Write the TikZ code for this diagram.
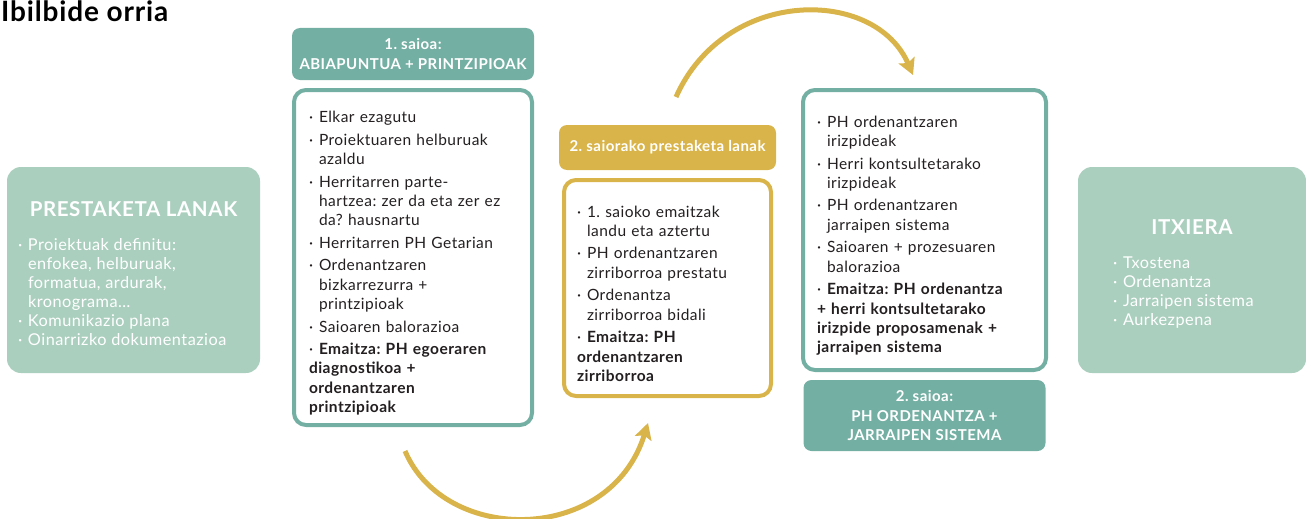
\documentclass[tikz,border=0pt]{standalone}
\usepackage{fontspec}
\setmainfont{Lato}[LetterSpace=3]
\usetikzlibrary{positioning}
\usetikzlibrary{arrows.meta}
\definecolor{sea}{HTML}{74AFA3}
\definecolor{mint}{HTML}{ABCFBE}
\definecolor{gold}{HTML}{D9B44A}
\definecolor{ink}{HTML}{231F20}
\newcommand{\bul}[1]{\par\hangindent=10pt\hangafter=1\noindent\makebox[10pt][l]{·}#1}
\newcommand{\nl}{\hfil\break}
\frenchspacing

\begin{document}
\begin{tikzpicture}
[
x=1pt, y=-1pt,
card/.style={rectangle, draw, line width=4pt, fill=white, rounded corners=12pt, outer sep=0pt, inner ysep=0pt, anchor=north west, align=left, text=ink, font=\fontsize{15.5}{19.3}\selectfont\setlength{\parskip}{3.3pt}},
head/.style={rectangle, fill=sea, rounded corners=8pt, outer sep=0pt, inner sep=0pt, align=center, text=white, font=\fontsize{15}{19.5}\selectfont\bfseries},
side/.style={rectangle, fill=mint, rounded corners=14pt, outer sep=0pt, inner sep=0pt, anchor=north west, align=center, text=white, font=\fontsize{16.3}{19}\selectfont},
flow/.style={draw=gold, line width=5pt, -{Stealth[length=16pt, width=17pt, inset=3pt]}},
]
\useasboundingbox (0,0) rectangle (1306,519);
\node (title) [anchor=base west, inner sep=0pt, font=\fontsize{28}{30}\selectfont\bfseries] at (1,22) {Ibilbide orria};

\node (prep) [side, minimum width=253pt, minimum height=206pt] at (7,167)
 {\rule{0pt}{22pt}{\fontsize{20.5}{22}\selectfont\bfseries PRESTAKETA LANAK}\\[15pt]
  \parbox[t]{231pt}{\bul{Proiektuak definitu:\nl enfokea, helburuak,\nl formatua, ardurak,\nl kronograma…}\bul{Komunikazio plana}\bul{Oinarrizko dokumentazioa}}};

\node (box1) [card, draw=sea, minimum width=238pt, minimum height=335pt, inner xsep=15pt, text width=208pt] at (294,90)
 {\bul{Elkar ezagutu}
  \bul{Proiektuaren helburuak\nl azaldu}
  \bul{Herritarren parte-\nl hartzea: zer da eta zer ez\nl da? hausnartu}
  \bul{Herritarren PH Getarian}
  \bul{Ordenantzaren\nl bizkarrezurra +\nl printzipioak}
  \bul{Saioaren balorazioa}
  \bul{\textbf{Emaitza: PH egoeraren\nl diagnostikoa +\nl ordenantzaren\nl printzipioak}}};
\node (head1) [head, minimum width=242pt, minimum height=52pt, above=10pt of box1] {1. saioa:\\ABIAPUNTUA + PRINTZIPIOAK};

\node (box2) [card, draw=gold, minimum width=207pt, minimum height=216pt, inner xsep=13pt, text width=181pt] at (564,180)
 {\bul{1. saioko emaitzak\nl landu eta aztertu}
  \bul{PH ordenantzaren\nl zirriborroa prestatu}
  \bul{Ordenantza\nl zirriborroa bidali}
  \bul{\textbf{Emaitza: PH\nl ordenantzaren\nl zirriborroa}}};
\node (head2) [head, fill=gold, minimum width=217pt, minimum height=45pt, above=10pt of box2] {2. saiorako prestaketa lanak};

\node (box3) [card, draw=sea, minimum width=243pt, minimum height=280pt, inner xsep=14pt, text width=215pt] at (803,90)
 {\bul{PH ordenantzaren\nl irizpideak}
  \bul{Herri kontsultetarako\nl irizpideak}
  \bul{PH ordenantzaren\nl jarraipen sistema}
  \bul{Saioaren + prozesuaren\nl balorazioa}
  \bul{\textbf{Emaitza: PH ordenantza\nl + herri kontsultetarako\nl irizpide proposamenak +\nl jarraipen sistema}}};
\node (head3) [head, minimum width=242pt, minimum height=71pt, below=10pt of box3] {2. saioa:\\PH ORDENANTZA +\\JARRAIPEN SISTEMA};

\node (close) [side, minimum width=228pt, minimum height=206pt] at (1078,167)
 {\rule{0pt}{22pt}{\fontsize{20.5}{22}\selectfont\bfseries ITXIERA}\\[15pt]
  \parbox[t]{158pt}{\bul{Txostena}\bul{Ordenantza}\bul{Jarraipen sistema}\bul{Aurkezpena}}};

% arrows between sessions
\coordinate (a1s) at (405,451);
\coordinate (a1e) at (648,423);
\coordinate (a2s) at (676,97);
\coordinate (a2e) at (913,75);
\draw [flow] (a1s) .. controls (445,545) and (610,545) .. (a1e);
\draw [flow] (a2s) .. controls (725,-13) and (875,-13) .. (a2e);
\end{tikzpicture}
\end{document}
